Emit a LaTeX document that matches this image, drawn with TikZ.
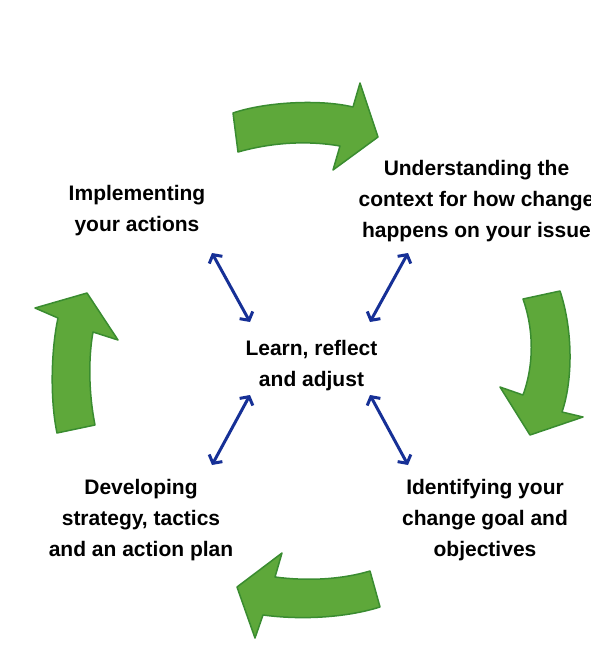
\documentclass[tikz,border=0pt]{standalone}
\usepackage{fontspec}
\setmainfont{Liberation Sans}
\usepackage{tikz}
\usetikzlibrary{arrows.meta}
\definecolor{arrowgreen}{RGB}{94,168,58}
\definecolor{arrowedge}{RGB}{58,140,48}
\definecolor{linkblue}{RGB}{22,48,150}

\begin{document}
\begin{tikzpicture}[x=1pt,y=-1pt,
    stagetext/.style={align=center,inner sep=0pt,anchor=base,
      font=\fontsize{21}{31}\selectfont\bfseries},
    bigarrow/.style={fill=arrowgreen,draw=arrowedge,line width=1.5pt,line join=round},
    linkarrow/.style={linkblue,line width=3pt,>={Straight Barb[length=6pt,width=15pt]},<->}]

      \useasboundingbox (0,0) rectangle (590,656);

      \node[stagetext] (learn) at (311.5,386) {Learn, reflect\\and adjust};
      \node[stagetext] (understand) at (476.5,237) {Understanding the\\context for how change\\happens on your issue};
      \node[stagetext] (identify) at (485,556) {Identifying your\\change goal and\\objectives};
      \node[stagetext] (develop) at (141,556) {Developing\\strategy, tactics\\and an action plan};
      \node[stagetext] (implement) at (137,231) {Implementing\\your actions};

      \draw[bigarrow] (233,113) .. controls (265,102) and (320,99) .. (353,107) -- (360,83)
        -- (378,137) -- (333,170) -- (340,146) .. controls (305,140) and (270,143) .. (238,152) -- cycle;
      \draw[bigarrow] (523,299) -- (560,291) .. controls (573,330) and (573,380) .. (562,412)
        -- (583,417) -- (530,435) -- (500,387) -- (523,395) .. controls (534,365) and (534,330) .. (523,299) -- cycle;
      \draw[bigarrow] (370,571) .. controls (340,580) and (305,581) .. (275,577) -- (282,553)
        -- (237,587) -- (255,638) -- (263,615) .. controls (300,620) and (345,618) .. (380,607) -- cycle;
      \draw[bigarrow] (57,433) -- (95,425) .. controls (89,395) and (88,360) .. (93,332) -- (118,340)
        -- (87,293) -- (35,308) -- (58,318) .. controls (51,350) and (50,400) .. (57,433) -- cycle;

      \coordinate (implement end) at (212,253);
      \coordinate (learn nw) at (250,322);
      \coordinate (understand end) at (408,253);
      \coordinate (learn ne) at (370,322);
      \coordinate (learn sw) at (250,395);
      \coordinate (develop end) at (212,465);
      \coordinate (learn se) at (370,395);
      \coordinate (identify end) at (408,465);

      \draw[linkarrow] (implement end) -- (learn nw);
      \draw[linkarrow] (understand end) -- (learn ne);
      \draw[linkarrow] (learn sw) -- (develop end);
      \draw[linkarrow] (learn se) -- (identify end);

    \end{tikzpicture}
\end{document}
